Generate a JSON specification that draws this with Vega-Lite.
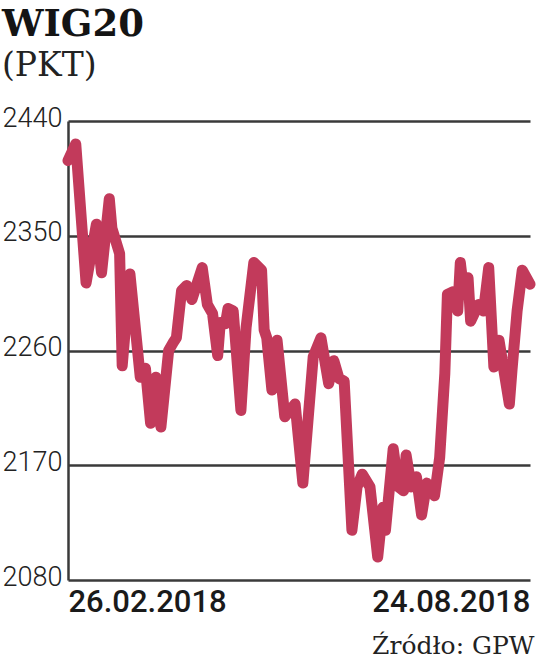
{
  "$schema": "https://vega.github.io/schema/vega-lite/v6.json",
  "autosize": "none",
  "width": 462,
  "height": 459,
  "padding": {"left": 68, "top": 121, "right": 6, "bottom": 83},
  "background": "white",
  "title": {
    "text": "WIG20",
    "subtitle": "(PKT)",
    "anchor": "start",
    "frame": "group",
    "dx": -66,
    "offset": 20,
    "font": "DejaVu Serif",
    "fontSize": 37,
    "fontWeight": "bold",
    "color": "#141414",
    "subtitleFont": "DejaVu Serif",
    "subtitleFontSize": 33,
    "subtitleColor": "#222222",
    "subtitlePadding": 6
  },
  "config": {
    "view": {"stroke": null},
    "axis": {"ticks": false}
  },
  "data": {
    "values": [
      {"date": "2018-02-26", "value": 2409},
      {"date": "2018-03-01", "value": 2422},
      {"date": "2018-03-05", "value": 2313},
      {"date": "2018-03-09", "value": 2359},
      {"date": "2018-03-11", "value": 2321},
      {"date": "2018-03-14", "value": 2379},
      {"date": "2018-03-15", "value": 2356},
      {"date": "2018-03-18", "value": 2336},
      {"date": "2018-03-19", "value": 2248},
      {"date": "2018-03-22", "value": 2320},
      {"date": "2018-03-26", "value": 2239},
      {"date": "2018-03-28", "value": 2246},
      {"date": "2018-03-30", "value": 2203},
      {"date": "2018-04-01", "value": 2239},
      {"date": "2018-04-03", "value": 2200},
      {"date": "2018-04-06", "value": 2260},
      {"date": "2018-04-08", "value": 2267},
      {"date": "2018-04-09", "value": 2270},
      {"date": "2018-04-11", "value": 2307},
      {"date": "2018-04-13", "value": 2311},
      {"date": "2018-04-15", "value": 2300},
      {"date": "2018-04-19", "value": 2325},
      {"date": "2018-04-21", "value": 2296},
      {"date": "2018-04-23", "value": 2289},
      {"date": "2018-04-25", "value": 2256},
      {"date": "2018-04-26", "value": 2282},
      {"date": "2018-04-28", "value": 2281},
      {"date": "2018-04-29", "value": 2293},
      {"date": "2018-05-01", "value": 2291},
      {"date": "2018-05-04", "value": 2213},
      {"date": "2018-05-06", "value": 2278},
      {"date": "2018-05-09", "value": 2329},
      {"date": "2018-05-12", "value": 2323},
      {"date": "2018-05-13", "value": 2276},
      {"date": "2018-05-14", "value": 2270},
      {"date": "2018-05-16", "value": 2229},
      {"date": "2018-05-18", "value": 2268},
      {"date": "2018-05-21", "value": 2208},
      {"date": "2018-05-25", "value": 2218},
      {"date": "2018-05-28", "value": 2156},
      {"date": "2018-06-01", "value": 2255},
      {"date": "2018-06-04", "value": 2270},
      {"date": "2018-06-07", "value": 2234},
      {"date": "2018-06-09", "value": 2252},
      {"date": "2018-06-11", "value": 2238},
      {"date": "2018-06-13", "value": 2236},
      {"date": "2018-06-16", "value": 2119},
      {"date": "2018-06-18", "value": 2153},
      {"date": "2018-06-20", "value": 2163},
      {"date": "2018-06-23", "value": 2153},
      {"date": "2018-06-26", "value": 2098},
      {"date": "2018-06-28", "value": 2137},
      {"date": "2018-06-29", "value": 2119},
      {"date": "2018-07-02", "value": 2183},
      {"date": "2018-07-04", "value": 2153},
      {"date": "2018-07-06", "value": 2150},
      {"date": "2018-07-07", "value": 2178},
      {"date": "2018-07-09", "value": 2153},
      {"date": "2018-07-11", "value": 2161},
      {"date": "2018-07-13", "value": 2131},
      {"date": "2018-07-15", "value": 2156},
      {"date": "2018-07-18", "value": 2146},
      {"date": "2018-07-20", "value": 2176},
      {"date": "2018-07-22", "value": 2242},
      {"date": "2018-07-23", "value": 2304},
      {"date": "2018-07-25", "value": 2306},
      {"date": "2018-07-27", "value": 2291},
      {"date": "2018-07-28", "value": 2329},
      {"date": "2018-07-29", "value": 2312},
      {"date": "2018-07-31", "value": 2317},
      {"date": "2018-08-01", "value": 2283},
      {"date": "2018-08-04", "value": 2296},
      {"date": "2018-08-06", "value": 2291},
      {"date": "2018-08-08", "value": 2325},
      {"date": "2018-08-10", "value": 2247},
      {"date": "2018-08-12", "value": 2268},
      {"date": "2018-08-16", "value": 2218},
      {"date": "2018-08-17", "value": 2244},
      {"date": "2018-08-19", "value": 2291},
      {"date": "2018-08-21", "value": 2323},
      {"date": "2018-08-24", "value": 2312}
    ]
  },
  "mark": {
    "type": "line",
    "color": "#c23a5b",
    "strokeWidth": 11,
    "strokeJoin": "round",
    "strokeCap": "round",
    "clip": false
  },
  "encoding": {
    "x": {
      "field": "date",
      "type": "temporal",
      "scale": {
        "type": "utc",
        "domain": [
          {"year": 2018, "month": 2, "date": 26, "utc": true},
          {"year": 2018, "month": 8, "date": 24, "utc": true}
        ]
      },
      "axis": {
        "title": "Źródło: GPW",
        "titleFont": "DejaVu Serif",
        "titleFontSize": 25,
        "titleFontWeight": "normal",
        "titleColor": "#222222",
        "titleX": 466,
        "titleAlign": "right",
        "titleAnchor": "end",
        "titlePadding": 16,
        "domain": false,
        "grid": false,
        "values": [
          {"year": 2018, "month": 2, "date": 26, "utc": true},
          {"year": 2018, "month": 8, "date": 24, "utc": true}
        ],
        "labelExpr": "utcFormat(datum.value, '%d.%m.%Y')",
        "labelFlush": true,
        "labelFont": "Roboto",
        "labelFontSize": 31,
        "labelFontWeight": 500,
        "labelColor": "#1a1a1a",
        "labelPadding": 7
      }
    },
    "y": {
      "field": "value",
      "type": "quantitative",
      "scale": {"domain": [2080, 2440], "nice": false, "zero": false},
      "axis": {
        "title": null,
        "format": "d",
        "values": [2080, 2170, 2260, 2350, 2440],
        "grid": true,
        "gridColor": "#3a3a3a",
        "gridWidth": 2.5,
        "domain": true,
        "domainColor": "#3a3a3a",
        "domainWidth": 2.5,
        "labelFont": "Roboto",
        "labelFontSize": 27,
        "labelFontWeight": 300,
        "labelColor": "#222222",
        "labelPadding": 6,
        "labelBaseline": "middle",
        "labelOffset": -3
      }
    }
  }
}
